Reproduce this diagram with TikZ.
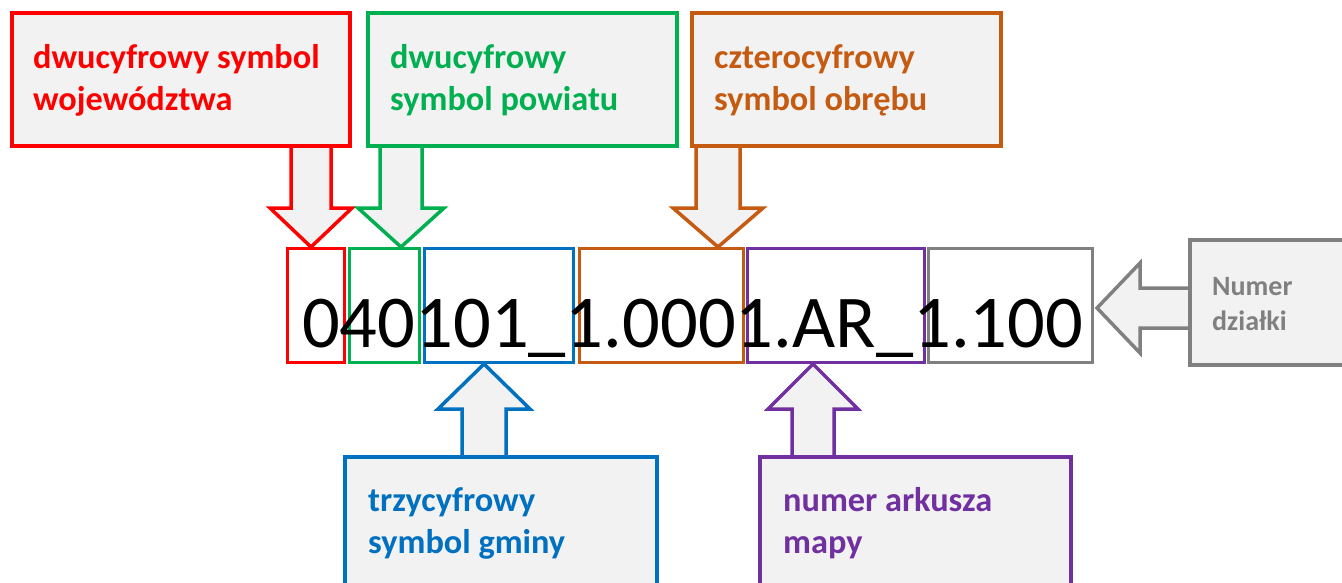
\documentclass[tikz,border=0pt]{standalone}
\usepackage{fontspec}
\setmainfont{Carlito}
\definecolor{cred}{HTML}{FF0000}
\definecolor{cgreen}{HTML}{00B050}
\definecolor{corange}{HTML}{C55A11}
\definecolor{cblue}{HTML}{0070C0}
\definecolor{cpurple}{HTML}{7030A0}
\definecolor{cgray}{HTML}{808080}
\definecolor{boxfill}{HTML}{F2F2F2}
\tikzset{
  labbox/.style={draw=#1, fill=boxfill, line width=3.5pt, inner sep=0pt},
  codebox/.style={draw=#1, line width=3pt, inner sep=0pt},
  labtext/.style={text=#1, font=\fontsize{34.3}{42}\selectfont\bfseries, anchor=base west, inner sep=0pt, align=left},
  arrfill/.style={fill=boxfill},
  arrline/.style={draw=#1, line width=3.5pt, line join=miter},
}
% vertical block arrow: color, xc, ybase, yhead, ytip, shaft half, head half
\newcommand\vblockarrow[7]{%
  \fill[arrfill] (#2-#6,#3) -- (#2-#6,#4) -- (#2-#7,#4) -- (#2,#5) -- (#2+#7,#4) -- (#2+#6,#4) -- (#2+#6,#3) -- cycle;
  \draw[arrline=#1] (#2-#6,#3) -- (#2-#6,#4) -- (#2-#7,#4) -- (#2,#5) -- (#2+#7,#4) -- (#2+#6,#4) -- (#2+#6,#3);
}
% horizontal block arrow: color, yc, xbase, xhead, xtip, shaft half, head half
\newcommand\hblockarrow[7]{%
  \fill[arrfill] (#3,#2-#6) -- (#4,#2-#6) -- (#4,#2-#7) -- (#5,#2) -- (#4,#2+#7) -- (#4,#2+#6) -- (#3,#2+#6) -- cycle;
  \draw[arrline=#1] (#3,#2-#6) -- (#4,#2-#6) -- (#4,#2-#7) -- (#5,#2) -- (#4,#2+#7) -- (#4,#2+#6) -- (#3,#2+#6);
}
\begin{document}
\begin{tikzpicture}[x=1pt,y=-1pt]
\useasboundingbox (0,0) rectangle (1342,583);

% arrows
\vblockarrow{cred}{311}{146}{208}{247}{20}{41}
\vblockarrow{cgreen}{401}{146}{208}{247}{21}{43}
\vblockarrow{corange}{718}{146}{208}{247}{22}{45}
\vblockarrow{cblue}{484}{457}{409}{364}{22}{46}
\vblockarrow{cpurple}{813}{457}{409}{364}{21}{45}
\hblockarrow{cgray}{308}{1190}{1140}{1097}{20}{45}

% label boxes
\path[labbox=cred] (12,13) rectangle (350,146);
\path[labbox=cgreen] (368,13) rectangle (677,146);
\path[labbox=corange] (692,13) rectangle (1001,146);
\path[labbox=cblue] (345,457) rectangle (657,600);
\path[labbox=cpurple] (760,457) rectangle (1071,600);
\path[labbox=cgray] (1190,240) rectangle (1360,365);

\node[labtext=cred] (tred) at (33,111) {dwucyfrowy symbol\\województwa};
\node[labtext=cgreen] (tgreen) at (390,111) {dwucyfrowy\\symbol powiatu};
\node[labtext=corange] (torange) at (714,111) {czterocyfrowy\\symbol obrębu};
\node[labtext=cblue] (tblue) at (368,553) {trzycyfrowy\\symbol gminy};
\node[labtext=cpurple] (tpurple) at (783,553) {numer arkusza\\mapy};
\node[labtext=cgray, font=\fontsize{28}{35}\selectfont\bfseries] (tgray) at (1212,330) {Numer\\działki};

% code boxes
\path[codebox=cred] (287,248) rectangle (344,362);
\path[codebox=cgreen] (349,248) rectangle (419,362);
\path[codebox=cblue] (424,248) rectangle (573,362);
\path[codebox=corange] (579,248) rectangle (743,362);
\path[codebox=cpurple] (747,248) rectangle (924,362);
\path[codebox=cgray] (928,248) rectangle (1092,362);

\node[anchor=base west, inner sep=0pt, font=\fontsize{74.5}{80}\selectfont] (code) at (302,347) {040101\_1.0001.AR\_1.100};
\end{tikzpicture}
\end{document}
